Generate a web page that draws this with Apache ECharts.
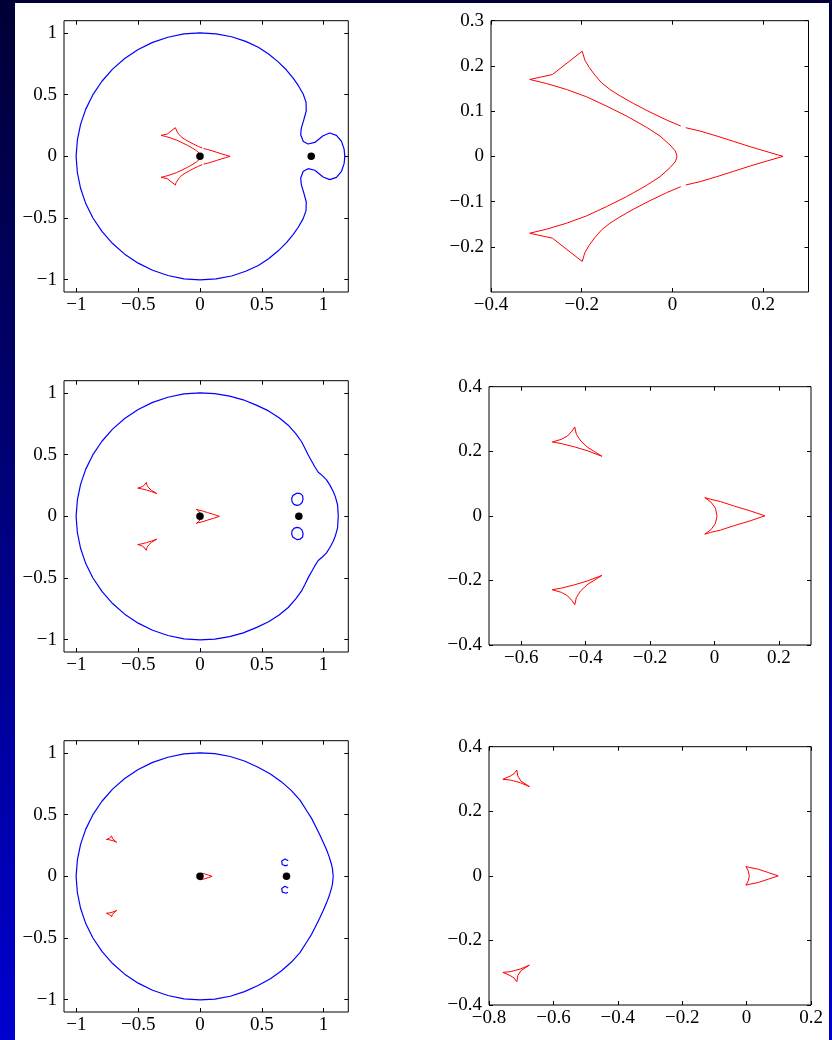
<!DOCTYPE html>
<html>
<head>
<meta charset="utf-8">
<script src="https://cdn.jsdelivr.net/npm/echarts@6/dist/echarts.min.js"></script>
<style>
  html, body { margin: 0; padding: 0; }
  body {
    width: 832px; height: 1040px; overflow: hidden; position: relative;
    background: linear-gradient(to bottom, #000036 0%, #00007e 50%, #0000d0 100%);
  }
  #sheet { position: absolute; left: 15px; top: 3px; width: 814px; height: 1037px; background: #fff; }
  #chart { position: absolute; left: 0; top: 0; width: 832px; height: 1040px; }
</style>
</head>
<body>
<div id="sheet"></div>
<div id="chart"></div>
<script>
// ---------- tick values ----------
const ticksUnit = [-1, -0.5, 0, 0.5, 1];
const ticksTopRightX = [-0.4, -0.2, 0, 0.2];
const ticksTopRightY = [-0.2, -0.1, 0, 0.1, 0.2, 0.3];
const ticksMidRightX = [-0.6, -0.4, -0.2, 0, 0.2];
const ticksLowRightX = [-0.8, -0.6, -0.4, -0.2, 0, 0.2];
const ticksRightY = [-0.4, -0.2, 0, 0.2, 0.4];

// ---------- lens positions (black dots) ----------
const lenses09 = [[0, 0], [0.9, 0]];
const lenses08 = [[0, 0], [0.8, 0]];
const lenses07 = [[0, 0], [0.7, 0]];

// ---------- critical curves (blue) ----------
const critical09 = [
  [1.172, 0.000], [1.166, 0.059], [1.145, 0.121], [1.104, 0.170], [1.050, 0.189],
  [0.996, 0.167], [0.929, 0.113], [0.875, 0.100], [0.836, 0.121], [0.815, 0.175],
  [0.820, 0.229], [0.840, 0.296], [0.860, 0.370], [0.858, 0.440], [0.835, 0.505],
  [0.795, 0.575], [0.755, 0.632], [0.700, 0.700], [0.633, 0.766], [0.555, 0.830],
  [0.472, 0.885], [0.370, 0.932], [0.256, 0.970], [0.130, 0.993], [0.000, 1.002],
  [-0.130, 0.993], [-0.259, 0.966], [-0.383, 0.924], [-0.500, 0.866], [-0.609, 0.793],
  [-0.707, 0.707], [-0.793, 0.609], [-0.866, 0.500], [-0.924, 0.383], [-0.966, 0.259],
  [-0.992, 0.131], [-1.002, 0.000],
  [-0.992, -0.131], [-0.966, -0.259], [-0.924, -0.383], [-0.866, -0.500], [-0.793, -0.609],
  [-0.707, -0.707], [-0.609, -0.793], [-0.500, -0.866], [-0.383, -0.924], [-0.259, -0.966],
  [-0.130, -0.993], [0.000, -1.002], [0.130, -0.993], [0.256, -0.970], [0.370, -0.932],
  [0.472, -0.885], [0.555, -0.830], [0.633, -0.766], [0.700, -0.700], [0.755, -0.632],
  [0.795, -0.575], [0.835, -0.505], [0.858, -0.440], [0.860, -0.370], [0.840, -0.296],
  [0.820, -0.229], [0.815, -0.175], [0.836, -0.121], [0.875, -0.100], [0.929, -0.113],
  [0.996, -0.167], [1.050, -0.189], [1.104, -0.170], [1.145, -0.121], [1.166, -0.059],
  [1.172, 0.000]
];

const critical08 = [
  [1.119, 0.000], [1.113, 0.094], [1.095, 0.160], [1.078, 0.202], [1.050, 0.255],
  [1.024, 0.296], [0.990, 0.330], [0.957, 0.358], [0.930, 0.400], [0.905, 0.445],
  [0.876, 0.497], [0.850, 0.550], [0.822, 0.605], [0.775, 0.670], [0.714, 0.739],
  [0.640, 0.800], [0.555, 0.855], [0.460, 0.900], [0.350, 0.945], [0.240, 0.975],
  [0.120, 0.995], [0.000, 1.002],
  [-0.130, 0.993], [-0.259, 0.966], [-0.383, 0.924], [-0.500, 0.866], [-0.609, 0.793],
  [-0.707, 0.707], [-0.793, 0.609], [-0.866, 0.500], [-0.924, 0.383], [-0.966, 0.259],
  [-0.992, 0.131], [-1.002, 0.000],
  [-0.992, -0.131], [-0.966, -0.259], [-0.924, -0.383], [-0.866, -0.500], [-0.793, -0.609],
  [-0.707, -0.707], [-0.609, -0.793], [-0.500, -0.866], [-0.383, -0.924], [-0.259, -0.966],
  [-0.130, -0.993], [0.000, -1.002],
  [0.120, -0.995], [0.240, -0.975], [0.350, -0.945], [0.460, -0.900], [0.555, -0.855],
  [0.640, -0.800], [0.714, -0.739], [0.775, -0.670], [0.822, -0.605], [0.850, -0.550],
  [0.876, -0.497], [0.905, -0.445], [0.930, -0.400], [0.957, -0.358], [0.990, -0.330],
  [1.024, -0.296], [1.050, -0.255], [1.078, -0.202], [1.095, -0.160], [1.113, -0.094],
  [1.119, 0.000]
];
const loop08Upper = [
  [0.787, 0.189], [0.812, 0.184], [0.830, 0.168], [0.834, 0.140], [0.826, 0.112],
  [0.806, 0.093], [0.783, 0.089], [0.760, 0.097], [0.745, 0.118], [0.742, 0.145],
  [0.752, 0.170], [0.768, 0.185], [0.787, 0.189]
];
const loop08Lower = [
  [0.787, -0.189], [0.812, -0.184], [0.830, -0.168], [0.834, -0.140], [0.826, -0.112],
  [0.806, -0.093], [0.783, -0.089], [0.760, -0.097], [0.745, -0.118], [0.742, -0.145],
  [0.752, -0.170], [0.768, -0.185], [0.787, -0.189]
];

const critical07 = [
  [1.078, 0.000], [1.072, 0.060], [1.065, 0.094], [1.045, 0.160], [1.024, 0.215],
  [0.998, 0.275], [0.970, 0.336], [0.938, 0.400], [0.903, 0.470], [0.865, 0.530],
  [0.809, 0.618], [0.740, 0.695], [0.660, 0.766], [0.570, 0.830], [0.470, 0.885],
  [0.360, 0.935], [0.245, 0.972], [0.120, 0.995], [0.000, 1.002],
  [-0.130, 0.993], [-0.259, 0.966], [-0.383, 0.924], [-0.500, 0.866], [-0.609, 0.793],
  [-0.707, 0.707], [-0.793, 0.609], [-0.866, 0.500], [-0.924, 0.383], [-0.966, 0.259],
  [-0.992, 0.131], [-1.002, 0.000],
  [-0.992, -0.131], [-0.966, -0.259], [-0.924, -0.383], [-0.866, -0.500], [-0.793, -0.609],
  [-0.707, -0.707], [-0.609, -0.793], [-0.500, -0.866], [-0.383, -0.924], [-0.259, -0.966],
  [-0.130, -0.993], [0.000, -1.002],
  [0.120, -0.995], [0.245, -0.972], [0.360, -0.935], [0.470, -0.885], [0.570, -0.830],
  [0.660, -0.766], [0.740, -0.695], [0.809, -0.618], [0.865, -0.530], [0.903, -0.470],
  [0.938, -0.400], [0.970, -0.336], [0.998, -0.275], [1.024, -0.215], [1.045, -0.160],
  [1.065, -0.094], [1.072, -0.060], [1.078, 0.000]
];
const loop07Upper = [
  [0.714, 0.127], [0.703, 0.138], [0.688, 0.141], [0.672, 0.136], [0.661, 0.124],
  [0.659, 0.108], [0.666, 0.094], [0.680, 0.085], [0.697, 0.085], [0.711, 0.094]
];
const loop07Lower = [
  [0.714, -0.095], [0.703, -0.084], [0.688, -0.081], [0.672, -0.086], [0.661, -0.098],
  [0.659, -0.114], [0.666, -0.128], [0.680, -0.137], [0.697, -0.137], [0.711, -0.128]
];

// ---------- caustics (red); null marks a break in the trace ----------
const caustic09 = [
  [0.2438, 0.0000], [0.2085, 0.0103], [0.1716, 0.0213], [0.1348, 0.0331], [0.0980, 0.0449],
  [0.0611, 0.0559], [0.0295, 0.0633], null,
  [0.0184, 0.0670], [-0.0125, 0.0802], [-0.0494, 0.0979], [-0.0862, 0.1170], [-0.1157, 0.1339],
  [-0.1378, 0.1479], [-0.1562, 0.1626], [-0.1709, 0.1795], [-0.1834, 0.1965], [-0.1930, 0.2127],
  [-0.1989, 0.2325], [-0.2645, 0.1810], [-0.3146, 0.1700],
  [-0.2777, 0.1611], [-0.2335, 0.1479], [-0.1893, 0.1317], [-0.1451, 0.1111], [-0.1009, 0.0890],
  [-0.0567, 0.0640], [-0.0273, 0.0449], [-0.0052, 0.0250], [0.0059, 0.0125], [0.0096, 0.0029],
  [0.0066, 0.0000],
  [0.0096, -0.0029], [0.0059, -0.0125], [-0.0052, -0.0250], [-0.0273, -0.0449], [-0.0567, -0.0640],
  [-0.1009, -0.0890], [-0.1451, -0.1111], [-0.1893, -0.1317], [-0.2335, -0.1479], [-0.2777, -0.1611],
  [-0.3146, -0.1700], [-0.2645, -0.1810], [-0.1989, -0.2325],
  [-0.1930, -0.2127], [-0.1834, -0.1965], [-0.1709, -0.1795], [-0.1562, -0.1626], [-0.1378, -0.1479],
  [-0.1157, -0.1339], [-0.0862, -0.1170], [-0.0494, -0.0979], [-0.0125, -0.0802], [0.0184, -0.0670], null,
  [0.0295, -0.0633], [0.0611, -0.0559], [0.0980, -0.0449], [0.1348, -0.0331], [0.1716, -0.0213],
  [0.2085, -0.0103], [0.2438, 0.0000]
];

const caustic08Central = [
  [0.157, 0.000], [0.111, 0.0155], [0.0596, 0.0309], [0.0185, 0.0443], [-0.0123, 0.0515],
  [-0.0298, 0.0567], [-0.0103, 0.0423], [0.0031, 0.0237], [0.0082, 0.000], [0.0031, -0.0237],
  [-0.0103, -0.0423], [-0.0298, -0.0567], [-0.0123, -0.0515], [0.0185, -0.0443], [0.0596, -0.0309],
  [0.111, -0.0155], [0.157, 0.000]
];
const caustic08Upper = [
  [-0.5036, 0.2289], [-0.4748, 0.2371], [-0.4563, 0.2474], [-0.4419, 0.2629], [-0.4337, 0.2753],
  [-0.4286, 0.2526], [-0.4152, 0.2320], [-0.3926, 0.2113], [-0.3720, 0.1990], [-0.3494, 0.1845],
  [-0.3926, 0.2010], [-0.4337, 0.2134], [-0.4748, 0.2237], [-0.5036, 0.2289]
];
const caustic08Lower = [
  [-0.5036, -0.2289], [-0.4748, -0.2371], [-0.4563, -0.2474], [-0.4419, -0.2629], [-0.4337, -0.2753],
  [-0.4286, -0.2526], [-0.4152, -0.2320], [-0.3926, -0.2113], [-0.3720, -0.1990], [-0.3494, -0.1845],
  [-0.3926, -0.2010], [-0.4337, -0.2134], [-0.4748, -0.2237], [-0.5036, -0.2289]
];

const caustic07Central = [
  [0.0982, 0.000], [0.0672, 0.0103], [0.0362, 0.0206], [0.0103, 0.0258], [-0.0021, 0.0289],
  [0.0052, 0.0155], [0.0083, 0.000], [0.0052, -0.0155], [-0.0021, -0.0289], [0.0103, -0.0258],
  [0.0362, -0.0206], [0.0672, -0.0103], [0.0982, 0.000]
];
const caustic07Upper = [
  [-0.757, 0.299], [-0.734, 0.309], [-0.722, 0.3165], [-0.7136, 0.3278], [-0.7105, 0.3093],
  [-0.7011, 0.2938], [-0.6743, 0.2763], [-0.7032, 0.2887], [-0.7342, 0.2969], [-0.757, 0.299]
];
const caustic07Lower = [
  [-0.757, -0.299], [-0.734, -0.309], [-0.722, -0.3165], [-0.7136, -0.3278], [-0.7105, -0.3093],
  [-0.7011, -0.2938], [-0.6743, -0.2763], [-0.7032, -0.2887], [-0.7342, -0.2969], [-0.757, -0.299]
];

// ---------- layout of the six panels ----------
const FONT = '"Liberation Serif", "Times New Roman", Times, serif';
const BLUE = '#0000ff', RED = '#ff0000';

const panels = [
  { box: { left: 64, top: 20.7, width: 284.3, height: 271.3 }, x: [-1.1, 1.2], y: [-1.1, 1.1],
    xt: ticksUnit, yt: ticksUnit,
    blue: [critical09], red: [caustic09], dots: lenses09 },
  { box: { left: 491, top: 20.7, width: 317.5, height: 271.3 }, x: [-0.4, 0.3], y: [-0.3, 0.3],
    xt: ticksTopRightX, yt: ticksTopRightY,
    blue: [], red: [caustic09], dots: [] },
  { box: { left: 64, top: 380.7, width: 284.3, height: 271.3 }, x: [-1.1, 1.2], y: [-1.1, 1.1],
    xt: ticksUnit, yt: ticksUnit,
    blue: [critical08, loop08Upper, loop08Lower],
    red: [caustic08Central, caustic08Upper, caustic08Lower], dots: lenses08 },
  { box: { left: 489, top: 386.7, width: 322, height: 258.3 }, x: [-0.7, 0.3], y: [-0.4, 0.4],
    xt: ticksMidRightX, yt: ticksRightY,
    blue: [], red: [caustic08Central, caustic08Upper, caustic08Lower], dots: [] },
  { box: { left: 64, top: 740.7, width: 284.3, height: 271.3 }, x: [-1.1, 1.2], y: [-1.1, 1.1],
    xt: ticksUnit, yt: ticksUnit,
    blue: [critical07, loop07Upper, loop07Lower],
    red: [caustic07Central, caustic07Upper, caustic07Lower], dots: lenses07 },
  { box: { left: 489, top: 746.7, width: 322, height: 258.3 }, x: [-0.8, 0.2], y: [-0.4, 0.4],
    xt: ticksLowRightX, yt: ticksRightY,
    blue: [], red: [caustic07Central, caustic07Upper, caustic07Lower], dots: [] }
];

// split a trace into unbroken runs at null entries
function runs(points) {
  const out = [];
  let cur = [];
  points.forEach(p => {
    if (p === null) { if (cur.length) out.push(cur); cur = []; }
    else cur.push(p);
  });
  if (cur.length) out.push(cur);
  return out;
}

const fmt = v => {
  const s = String(Math.round(v * 1000) / 1000);
  return s.replace('-', '\u2212');
};

function axis(gridIndex, range, ticks, position, labelled) {
  return {
    type: 'value', gridIndex, position, min: range[0], max: range[1],
    axisLine: { show: false, onZero: false },
    splitLine: { show: false },
    axisTick: { show: true, inside: true, length: 4, customValues: ticks,
      lineStyle: { color: '#000', width: 1 } },
    axisLabel: { show: labelled, customValues: ticks, formatter: fmt,
      fontFamily: FONT, fontSize: 19, color: '#000',
      margin: (position === 'bottom') ? 4 : 7 }
  };
}

const grid = [], xAxis = [], yAxis = [], series = [];
panels.forEach((p, i) => {
  grid.push(Object.assign({ show: true, backgroundColor: '#fff', borderColor: '#000', borderWidth: 1,
    containLabel: false }, p.box));
  xAxis.push(axis(i, p.x, p.xt, 'bottom', true));
  xAxis.push(axis(i, p.x, p.xt, 'top', false));
  yAxis.push(axis(i, p.y, p.yt, 'left', true));
  yAxis.push(axis(i, p.y, p.yt, 'right', false));
  const ax = { xAxisIndex: 2 * i, yAxisIndex: 2 * i };
  const addLines = (list, color, width) => list.forEach(trace => runs(trace).forEach(run => {
    series.push(Object.assign({
      type: 'line', data: run, symbol: 'none', showSymbol: false, smooth: false,
      clip: true, silent: true, z: 3,
      lineStyle: { color, width }
    }, ax));
  }));
  addLines(p.blue, BLUE, 1.2);
  addLines(p.red, RED, 1);
  if (p.dots.length) {
    series.push(Object.assign({
      type: 'scatter', data: p.dots, symbol: 'circle', symbolSize: 7.5, z: 5, silent: true,
      itemStyle: { color: '#000', opacity: 1 }
    }, ax));
  }
});

const chart = echarts.init(document.getElementById('chart'), null, { renderer: 'canvas' });
chart.setOption({
  animation: false,
  backgroundColor: 'transparent',
  grid, xAxis, yAxis, series
});
</script>
</body>
</html>
